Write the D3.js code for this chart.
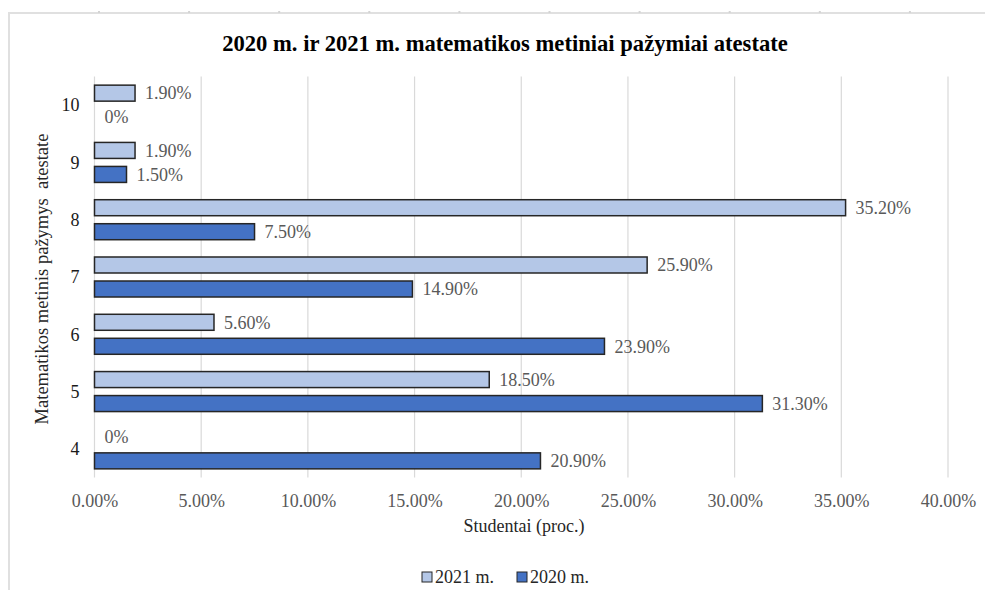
<!DOCTYPE html>
<html>
<head>
<meta charset="utf-8">
<script src="https://cdn.jsdelivr.net/npm/d3@7"></script>
<style>
  html, body { margin: 0; padding: 0; background: #fff; }
  svg { display: block; }
  text { font-family: "Liberation Serif", "Times New Roman", serif; }
</style>
</head>
<body>
<svg id="chart" width="985" height="590"></svg>
<script>
// Grades (top to bottom) and share of students per grade
const grades = ["10", "9", "8", "7", "6", "5", "4"];
const values2021 = [1.9, 1.9, 35.2, 25.9, 5.6, 18.5, 0];
const values2020 = [0, 1.5, 7.5, 14.9, 23.9, 31.3, 20.9];
const seriesNames = ["2021 m.", "2020 m."];
const seriesColors = ["#b4c7e7", "#4472c4"];
const xTicks = [0, 5, 10, 15, 20, 25, 30, 35, 40];

const titleText = "2020 m. ir 2021 m. matematikos metiniai pažymiai atestate";
const xTitle = "Studentai (proc.)";
const yTitle = "Matematikos metinis pažymys\u00a0 atestate";

const svg = d3.select("#chart");
const W = 985, H = 590;
const plot = { left: 94.5, right: 948, top: 76.5, bottom: 477.5 };

// frame lines around the chart object
const frame = svg.append("g");
frame.append("line").attr("x1", 9).attr("x2", W).attr("y1", 13).attr("y2", 13)
  .attr("stroke", "#e0e0e0").attr("stroke-width", 2);
frame.append("line").attr("x1", 9).attr("x2", 9).attr("y1", 12).attr("y2", H)
  .attr("stroke", "#e0e0e0").attr("stroke-width", 2);
frame.selectAll("rect.mark").data(d3.range(99, W, 90.1)).join("rect")
  .attr("class", "mark").attr("x", d => d - 1).attr("y", 11).attr("width", 2).attr("height", 2)
  .attr("fill", "#d4d4d4");

const x = d3.scaleLinear().domain([0, 40]).range([plot.left, plot.right]);
const y = d3.scaleBand().domain(grades).range([plot.top, plot.bottom]).padding(0);
const inner = d3.scaleBand().domain(seriesNames).range([0, y.bandwidth()])
  .paddingInner(8 / 24).paddingOuter(0.36);

// title
svg.append("text").attr("x", 505).attr("y", 51).attr("text-anchor", "middle")
  .attr("font-size", 22.6).attr("font-weight", "bold").attr("fill", "#000")
  .text(titleText);

// vertical gridlines
svg.append("g").selectAll("line").data(xTicks).join("line")
  .attr("x1", d => x(d)).attr("x2", d => x(d))
  .attr("y1", plot.top).attr("y2", plot.bottom)
  .attr("stroke", "#d9d9d9").attr("stroke-width", 1.2);

// x axis tick labels
const xAxis = d3.axisBottom(x).tickValues(xTicks)
  .tickFormat(d => d3.format(".2f")(d) + "%").tickSize(0).tickPadding(0);
const gx = svg.append("g").attr("transform", `translate(0,${plot.bottom})`).call(xAxis);
gx.select(".domain").remove();
gx.selectAll("text").attr("font-size", 18).attr("fill", "#595959")
  .attr("font-family", "Liberation Serif, serif").attr("dy", null).attr("y", 29.5);

// y axis category labels
const yAxis = d3.axisLeft(y).tickSize(0).tickPadding(0);
const gy = svg.append("g").attr("transform", `translate(${plot.left - 15},0)`).call(yAxis);
gy.select(".domain").remove();
gy.selectAll("text").attr("font-size", 18).attr("fill", "#1a1a1a")
  .attr("font-family", "Liberation Serif, serif").attr("dy", "0.35em");

// bars
const series = [values2021, values2020];
series.forEach((vals, si) => {
  const g = svg.append("g");
  const rows = grades.map((gr, i) => ({ grade: gr, value: vals[i] }));
  g.selectAll("rect").data(rows.filter(r => r.value > 0)).join("rect")
    .attr("x", x(0))
    .attr("y", r => y(r.grade) + inner(seriesNames[si]))
    .attr("width", r => x(r.value) - x(0))
    .attr("height", inner.bandwidth())
    .attr("fill", seriesColors[si])
    .attr("stroke", "#262626").attr("stroke-width", 1.5);
  g.selectAll("text").data(rows).join("text")
    .attr("x", r => x(r.value) + 10)
    .attr("y", r => y(r.grade) + inner(seriesNames[si]) + inner.bandwidth() / 2)
    .attr("dy", "0.35em")
    .attr("font-size", 18).attr("fill", "#595959")
    .text(r => r.value === 0 ? "0%" : d3.format(".2f")(r.value) + "%");
});

// axis titles
svg.append("text").attr("x", 524).attr("y", 532).attr("text-anchor", "middle")
  .attr("font-size", 18).attr("fill", "#262626").text(xTitle);
svg.append("text").attr("transform", "translate(48,279) rotate(-90)")
  .attr("text-anchor", "middle").attr("font-size", 18.5).attr("fill", "#262626")
  .text(yTitle);

// legend
const legend = svg.append("g");
const legendX = [422, 517];
seriesNames.forEach((name, i) => {
  legend.append("rect").attr("x", legendX[i]).attr("y", 572).attr("width", 10).attr("height", 10)
    .attr("fill", seriesColors[i]).attr("stroke", "#262626").attr("stroke-width", 1);
  legend.append("text").attr("x", legendX[i] + 13).attr("y", 583)
    .attr("font-size", 18).attr("fill", "#262626").text(name);
});
</script>
</body>
</html>
